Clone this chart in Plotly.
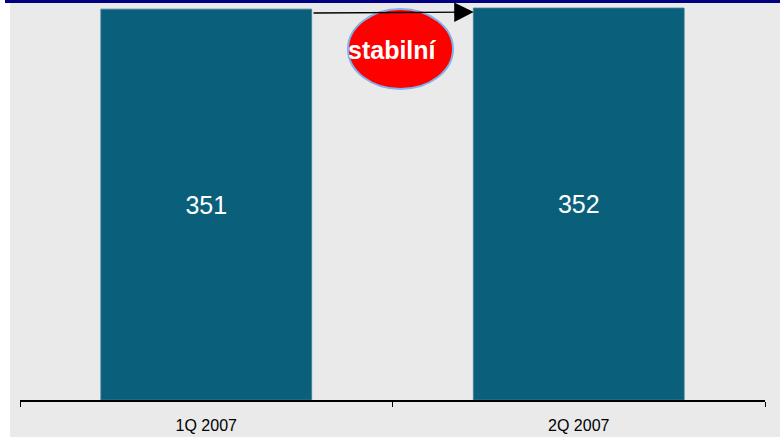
import plotly.graph_objects as go

categories = ["1Q 2007", "2Q 2007"]
values = [351, 352]
badge_text = "stabilní"

W, H = 780, 437
L, R, T, B = 20, 15, 0, 37
plot_h = H - T - B
ymax = 359.2

fig = go.Figure()
fig.add_trace(go.Bar(
    x=categories, y=values,
    marker=dict(color="#0A5F7A", line=dict(color="#3F7F99", width=0.8)),
    width=0.566,
    text=[str(v) for v in values],
    textposition="inside", insidetextanchor="middle",
    textfont=dict(color="white", size=25, family="Liberation Sans, Arial"),
    hoverinfo="skip",
))

fig.update_layout(
    width=W, height=H,
    margin=dict(l=L, r=R, t=T, b=B, autoexpand=False),
    paper_bgcolor="#EAEAEA", plot_bgcolor="#EAEAEA",
    showlegend=False,
    bargap=0.434,
    xaxis=dict(
        showline=True, linecolor="black", linewidth=1.5,
        ticks="outside", tickson="boundaries", ticklen=5, tickcolor="black", tickwidth=1.2,
        tickfont=dict(size=16, color="black", family="Liberation Sans, Arial"),
        ticklabelstandoff=10, automargin=False,
        showgrid=False, zeroline=False,
    ),
    yaxis=dict(range=[0, ymax], visible=False, showgrid=False, zeroline=False),
)

pw = W - L - R
# white strip at left edge
fig.add_shape(type="rect", xref="paper", yref="paper",
              x0=-L / pw, x1=-10 / pw, y0=-B / plot_h, y1=1.0,
              fillcolor="white", line=dict(width=0), layer="above")
# navy line at top
fig.add_shape(type="rect", xref="paper", yref="paper",
              x0=-15 / pw, x1=(W - L) / pw, y0=1 - 3 / plot_h, y1=1.0,
              fillcolor="#000080", line=dict(width=0), layer="above")

# arrow between bars
fig.add_annotation(x=0.718, y=348.4, ax=0.284, ay=347.5,
                   xref="x", yref="y", axref="x", ayref="y",
                   showarrow=True, arrowhead=2, arrowsize=3, arrowwidth=1.3,
                   arrowcolor="black", text="")

# red ellipse badge
fig.add_shape(type="circle", xref="x", yref="y",
              x0=0.3805, x1=0.6624, y0=279.3, y1=351.1,
              fillcolor="#FF0000", line=dict(color="#7EB4EA", width=2), layer="above")
fig.add_annotation(x=0.5, y=314.3, xref="x", yref="y", text="<b>%s</b>" % badge_text,
                   showarrow=False,
                   font=dict(color="white", size=25, family="Liberation Sans, Arial"))

fig.write_html("out.html", config={"displayModeBar": False},
               post_script="document.body.style.margin='0';")
